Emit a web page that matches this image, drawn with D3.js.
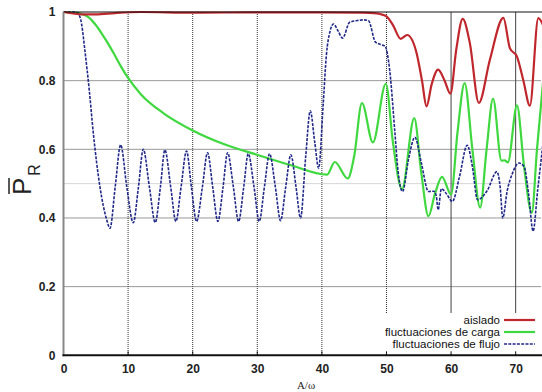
<!DOCTYPE html>
<html>
<head>
<meta charset="utf-8">
<script src="https://cdn.jsdelivr.net/npm/d3@7"></script>
<style>
  html, body { margin: 0; padding: 0; background: #fff; }
  svg { display: block; }
</style>
</head>
<body>
<svg id="chart" width="542" height="392"></svg>
<script>
// ---------- data ----------
const xTicks = [0, 10, 20, 30, 40, 50, 60, 70];
const yTicks = [0, 0.2, 0.4, 0.6, 0.8, 1];
const seriesNames = ["aislado", "fluctuaciones de carga", "fluctuaciones de flujo"];

const aislado = [
  [0, 1], [3, 0.993], [5, 0.993], [8, 0.997], [12, 1], [20, 0.998], [30, 0.999],
  [40, 0.999], [46, 0.998], [48, 0.997], [49, 0.994], [50, 0.987], [51, 0.962],
  [52.2, 0.922], [53.2, 0.933], [54.6, 0.885], [55.5, 0.8], [56.2, 0.725], [57, 0.79],
  [58, 0.832], [59, 0.8], [59.9, 0.762], [60.8, 0.89], [61.8, 0.98], [62.9, 0.91],
  [64.3, 0.735], [66, 0.86], [68.1, 0.983], [69.1, 0.895], [70.2, 0.87], [71.2, 0.8],
  [72.2, 0.727], [73.5, 0.982], [74.5, 0.95]
];

const carga = [
  [0, 1], [2, 0.998], [3, 0.993], [4, 0.983], [5, 0.962], [6, 0.935], [7, 0.905],
  [8, 0.872], [9, 0.838], [10, 0.808], [12, 0.76], [15.5, 0.705], [20, 0.655],
  [25, 0.614], [30, 0.584], [35, 0.555], [40.8, 0.526], [42, 0.563], [44, 0.515],
  [45, 0.58], [46.2, 0.735], [47.9, 0.62], [49.9, 0.791], [51, 0.62], [52.4, 0.484],
  [54.3, 0.691], [55.4, 0.53], [56.5, 0.405], [57.5, 0.47], [58.6, 0.52], [60, 0.468],
  [61, 0.65], [62.1, 0.793], [63.3, 0.6], [64.5, 0.43], [65.5, 0.6], [66.5, 0.748],
  [67.8, 0.567], [68.3, 0.568], [68.8, 0.562], [70.2, 0.728], [71.3, 0.55],
  [72.5, 0.415], [73.3, 0.6], [74.5, 0.85]
];

const flujo = [
  [0, 1], [1.5, 1], [2.2, 0.997], [2.8, 0.965], [3.3, 0.89], [4.0, 0.77], [4.6, 0.65],
  [5.65, 0.49], [6.7, 0.394], [7.2, 0.37], [8.0, 0.49], [8.85, 0.613], [9.8, 0.49],
  [10.8, 0.386], [11.6, 0.49], [12.35, 0.6], [13.3, 0.49], [14.2, 0.387], [15.0, 0.49],
  [15.7, 0.598], [16.6, 0.49], [17.4, 0.39], [18.2, 0.49], [19.05, 0.595], [19.8, 0.49],
  [20.6, 0.39], [21.5, 0.49], [22.3, 0.59], [23.1, 0.49], [23.9, 0.39], [24.7, 0.49],
  [25.4, 0.59], [26.3, 0.49], [27.1, 0.39], [27.9, 0.49], [28.6, 0.587], [29.5, 0.49],
  [30.3, 0.39], [31.1, 0.49], [31.9, 0.587], [32.8, 0.49], [33.6, 0.392], [34.4, 0.49],
  [35.2, 0.584], [36.0, 0.49], [36.7, 0.40], [37.5, 0.58], [38.2, 0.712], [38.9, 0.62],
  [39.5, 0.545], [40.2, 0.73], [40.7, 0.875], [41.25, 0.943], [41.8, 0.965],
  [42.5, 0.945], [43.2, 0.924], [44.3, 0.97], [45.5, 0.975], [46.5, 0.977],
  [47.2, 0.975], [48.3, 0.912], [49.0, 0.906], [49.8, 0.9], [50.5, 0.83], [51.3, 0.65],
  [51.8, 0.535], [52.5, 0.477], [53.4, 0.57], [54.4, 0.635], [55.4, 0.56],
  [56.5, 0.477], [57.3, 0.478], [57.7, 0.465], [58.0, 0.424], [58.5, 0.485],
  [59.3, 0.47], [60.2, 0.448], [61.3, 0.52], [62.5, 0.612], [63.3, 0.55], [64.1, 0.453],
  [65.6, 0.48], [67.1, 0.535], [67.6, 0.49], [68.0, 0.40], [68.7, 0.48], [69.5, 0.53],
  [70.5, 0.56], [71.3, 0.55], [72.0, 0.47], [72.7, 0.362], [73.4, 0.48], [74.5, 0.66]
];

// ---------- layout ----------
const svg = d3.select("#chart");
const W = 542, H = 392;
const plot = { left: 63.5, right: 541.5, top: 12, bottom: 355.3 };

const x = d3.scaleLinear().domain([0, 74]).range([plot.left, plot.right]);
const y = d3.scaleLinear().domain([0, 1]).range([plot.bottom, plot.top]);

const colors = { aislado: "#c0272d", carga: "#3fd83f", flujo: "#20288a" };

svg.append("rect").attr("width", W).attr("height", H).attr("fill", "#fff");

// grid
const grid = svg.append("g");
grid.selectAll("line.hg").data([0.2, 0.4, 0.6, 0.8]).join("line")
  .attr("x1", plot.left).attr("x2", plot.right)
  .attr("y1", d => y(d)).attr("y2", d => y(d))
  .attr("stroke", "#333").attr("stroke-width", 1).attr("stroke-dasharray", "1,1");
grid.append("line")
  .attr("x1", plot.left).attr("x2", plot.right)
  .attr("y1", y(0.5)).attr("y2", y(0.5))
  .attr("stroke", "#aaa").attr("stroke-width", 1).attr("stroke-dasharray", "1,1");
grid.selectAll("line.vg").data([10, 20, 30, 40, 50]).join("line")
  .attr("x1", d => x(d)).attr("x2", d => x(d))
  .attr("y1", plot.top).attr("y2", plot.bottom)
  .attr("stroke", "#333").attr("stroke-width", 1).attr("stroke-dasharray", "1,1");
grid.selectAll("line.vs").data([60, 70]).join("line")
  .attr("x1", d => x(d)).attr("x2", d => x(d))
  .attr("y1", plot.top).attr("y2", plot.bottom)
  .attr("stroke", "#444").attr("stroke-width", 1);

// clip
svg.append("clipPath").attr("id", "clip").append("rect")
  .attr("x", plot.left).attr("y", plot.top - 3)
  .attr("width", plot.right - plot.left + 1).attr("height", plot.bottom - plot.top + 3);

const line = d3.line().x(d => x(d[0])).y(d => y(d[1])).curve(d3.curveMonotoneX);
const curves = svg.append("g").attr("clip-path", "url(#clip)");
curves.append("path").datum(carga).attr("d", line)
  .attr("fill", "none").attr("stroke", colors.carga).attr("stroke-width", 2.2);
curves.append("path").datum(flujo).attr("d", line)
  .attr("fill", "none").attr("stroke", colors.flujo).attr("stroke-width", 1.6)
  .attr("stroke-dasharray", "3,1.3");
curves.append("path").datum(aislado).attr("d", line)
  .attr("fill", "none").attr("stroke", colors.aislado).attr("stroke-width", 2.2);

// frame
svg.append("line").attr("x1", plot.left).attr("x2", W)
  .attr("y1", plot.top).attr("y2", plot.top).attr("stroke", "#111").attr("stroke-width", 1);
svg.append("line").attr("x1", plot.left).attr("x2", plot.left)
  .attr("y1", plot.top).attr("y2", plot.bottom + 1).attr("stroke", "#888").attr("stroke-width", 2);

// legend background
const leg = svg.append("g");
leg.append("rect").attr("x", 362).attr("y", 313).attr("width", W - 362).attr("height", plot.bottom - 313 - 1)
  .attr("fill", "#fff");
const legItems = [
  { name: seriesNames[0], color: colors.aislado, dash: null, w: 2.2 },
  { name: seriesNames[1], color: colors.carga, dash: null, w: 2.2 },
  { name: seriesNames[2], color: colors.flujo, dash: "3,1.3", w: 1.6 }
];
legItems.forEach((it, i) => {
  const cy = 320 + i * 12;
  leg.append("text").attr("x", 500).attr("y", cy).attr("dy", "0.35em")
    .attr("text-anchor", "end").attr("font-family", "Liberation Sans, Arial, sans-serif")
    .attr("font-size", 11.5).attr("textLength", null).attr("fill", "#111").text(it.name);
  leg.append("line").attr("x1", 504).attr("x2", 535).attr("y1", cy).attr("y2", cy)
    .attr("stroke", it.color).attr("stroke-width", it.w)
    .attr("stroke-dasharray", it.dash);
});

// bottom axis
const xAxis = d3.axisBottom(x).tickValues(xTicks).tickSize(0).tickPadding(9)
  .tickFormat(d3.format("d"));
const gx = svg.append("g").attr("transform", `translate(0,${plot.bottom})`).call(xAxis);
gx.select(".domain").remove();
gx.selectAll("text").attr("font-family", "Liberation Sans, Arial, sans-serif")
  .attr("font-size", 12).attr("font-weight", "bold").attr("fill", "#222");
svg.append("line").attr("x1", plot.left - 1).attr("x2", W)
  .attr("y1", plot.bottom).attr("y2", plot.bottom).attr("stroke", "#111").attr("stroke-width", 2);
svg.selectAll("line.xt").data(xTicks.slice(1)).join("line")
  .attr("x1", d => x(d)).attr("x2", d => x(d))
  .attr("y1", plot.bottom).attr("y2", plot.bottom - 4)
  .attr("stroke", "#111").attr("stroke-width", 1);

// left axis
const yAxis = d3.axisLeft(y).tickValues(yTicks).tickSize(0).tickPadding(8)
  .tickFormat(d => d === 0 || d === 1 ? d3.format("d")(d) : d3.format(".1f")(d));
const gy = svg.append("g").attr("transform", `translate(${plot.left},0)`).call(yAxis);
gy.select(".domain").remove();
gy.selectAll("text").attr("font-family", "Liberation Sans, Arial, sans-serif")
  .attr("font-size", 12).attr("font-weight", "bold").attr("fill", "#222");

// axis titles
svg.append("text").attr("x", 306).attr("y", 385).attr("dy", "0.35em")
  .attr("text-anchor", "middle").attr("font-family", "Liberation Serif, Times New Roman, serif")
  .attr("font-size", 11).attr("fill", "#222").text("A/ω");

const yt = svg.append("g").attr("transform", "translate(31,195) rotate(-90)");
const ytxt = yt.append("text").attr("x", 0).attr("y", 0)
  .attr("font-family", "Liberation Sans, Arial, sans-serif").attr("fill", "#222");
ytxt.append("tspan").attr("font-size", 26).text("P");
ytxt.append("tspan").attr("font-size", 16).attr("dy", 9).attr("dx", 2).text("R");
yt.append("line").attr("x1", 1).attr("x2", 17).attr("y1", -22).attr("y2", -22)
  .attr("stroke", "#222").attr("stroke-width", 1.5);
</script>
</body>
</html>
